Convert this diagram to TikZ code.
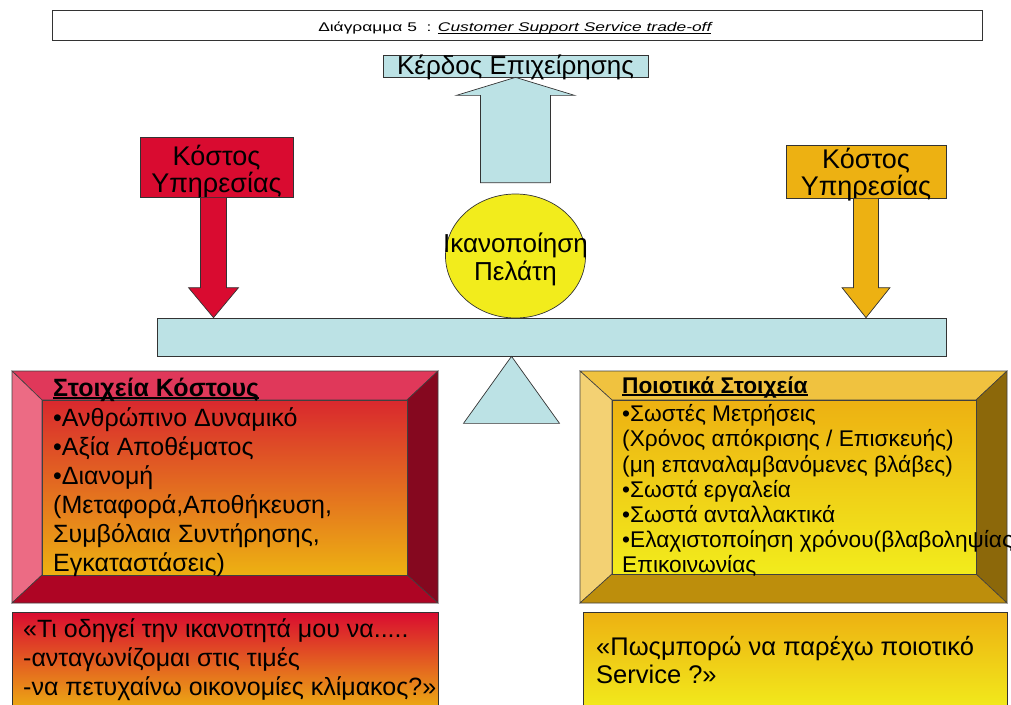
\documentclass[tikz,border=0pt]{standalone}
\usepackage{fontspec}
\usepackage{graphicx}
\setmainfont{Liberation Sans}
\usetikzlibrary{calc,shapes.geometric}

\definecolor{paleblue}{HTML}{BCE2E5}
\definecolor{crimson}{HTML}{D90B30}
\definecolor{amber}{HTML}{EDB112}
\definecolor{lemon}{HTML}{F2EC1C}
% bevel faces, cost frame
\definecolor{rtop}{HTML}{E0385A}
\definecolor{rleft}{HTML}{EC6B84}
\definecolor{rright}{HTML}{85081F}
\definecolor{rbottom}{HTML}{AE0524}
\definecolor{rface}{HTML}{D9282E}
% bevel faces, quality frame
\definecolor{gtop}{HTML}{F0C23F}
\definecolor{gleft}{HTML}{F3D173}
\definecolor{gright}{HTML}{8C680A}
\definecolor{gbottom}{HTML}{BD8E0C}

% underline drawn as a rule of given depth and thickness
\newcommand\ulrule[3]{\setbox0\hbox{#3}\rlap{\rule[-#1]{\wd0}{#2}}\box0}

\begin{document}
\begin{tikzpicture}[x=1pt,y=-1pt,
  outline/.style={draw=black!80, line width=0.7pt},
  facet/.style={draw=black!75, line width=0.6pt},
  textblock/.style={anchor=base west, inner sep=0pt},
  caption/.style={anchor=base, inner sep=0pt}]
\useasboundingbox (0,0) rectangle (1011,704);
\clip (0,0) rectangle (1011,704);

% heading
\node[outline, minimum width=930pt, minimum height=30pt, inner sep=0pt, anchor=north west]
  (title) at (52,10) {};
\node[caption] (titletext) at ($(title.center)+(-2.5,6)$)
  {\scalebox{1.38}[1]{\fontsize{12.6}{15}\selectfont Διάγραμμα 5\ \ : \textit{\ulrule{2pt}{0.7pt}{Customer Support Service trade-off}}}};

% profit label and the satisfaction ball
\node[outline, fill=paleblue, minimum width=265pt, minimum height=22pt, inner sep=0pt] (profit)
  at (515.5,66) {};
\node[caption, font=\fontsize{26}{28}\selectfont] (profittext) at ($(profit.center)+(0,8)$)
  {Κέρδος Επιχείρησης};
\node[outline, ellipse, fill=lemon, minimum width=140pt, minimum height=124pt, inner sep=0pt] (sat)
  at (515.5,256) {};
\node[caption] (sattext) at ($(sat.center)+(0,-4)$)
  {\parbox[t]{200pt}{\centering\fontsize{26}{28}\selectfont Ικανοποίηση\\Πελάτη}};

% cost weights
\node[outline, fill=crimson, minimum width=153pt, minimum height=60pt, inner sep=0pt] (costL)
  at (216.5,167) {};
\node[caption] (costLtext) at ($(costL.center)+(0,-2)$)
  {\parbox[t]{200pt}{\centering\fontsize{27}{27}\selectfont Κόστος\\Υπηρεσίας}};
\node[outline, fill=amber, minimum width=160pt, minimum height=53pt, inner sep=0pt] (costR)
  at (866,171.5) {};
\node[caption] (costRtext) at ($(costR.center)+(0,-3.5)$)
  {\parbox[t]{200pt}{\centering\fontsize{27}{27}\selectfont Κόστος\\Υπηρεσίας}};

% balance beam and fulcrum
\node[outline, fill=paleblue, minimum width=789pt, minimum height=38pt, inner sep=0pt] (beam)
  at (551.5,337) {};
\coordinate (apex) at ($(sat.center |- beam.south)+(-4,0)$);
\path[outline, fill=paleblue] (apex) -- ++(48,67) -- ++(-96,0) -- cycle;

% block arrows
\coordinate (tipL) at ($(costL.south |- beam.north)+(-3,0)$);
\coordinate (rootL) at ($(costL.south)+(-3,0)$);
\path[outline, fill=crimson]
  ($(rootL)+(-13,0)$) -- ($(tipL)+(-13,-30)$) -- ($(tipL)+(-25,-30)$) -- (tipL)
  -- ($(tipL)+(25,-30)$) -- ($(tipL)+(13,-30)$) -- ($(rootL)+(13,0)$) -- cycle;

\coordinate (tipR) at (costR.south |- beam.north);
\path[outline, fill=amber]
  ($(costR.south)+(-12.5,0)$) -- ($(tipR)+(-12.5,-30)$) -- ($(tipR)+(-24,-30)$) -- (tipR)
  -- ($(tipR)+(24,-30)$) -- ($(tipR)+(12.5,-30)$) -- ($(costR.south)+(12.5,0)$) -- cycle;

\coordinate (tipU) at (profit.south);
\coordinate (baseU) at ($(sat.north)+(0,-11)$);
\path[outline, fill=paleblue]
  ($(baseU)+(-35,0)$) -- ($(tipU)+(-35,18)$) -- ($(tipU)+(-59,18)$) -- (tipU)
  -- ($(tipU)+(59,18)$) -- ($(tipU)+(35,18)$) -- ($(baseU)+(35,0)$) -- cycle;

% bevelled frame: cost elements
\path[facet, fill=rtop]    (12,371) -- (438,371) -- (407,400) -- (42,400) -- cycle;
\path[facet, fill=rleft]   (12,371) -- (42,400) -- (42,575) -- (12,603) -- cycle;
\path[facet, fill=rright]  (438,371) -- (438,603) -- (407,575) -- (407,400) -- cycle;
\path[facet, fill=rbottom] (12,603) -- (438,603) -- (407,575) -- (42,575) -- cycle;
\path[facet, top color=rface, bottom color=amber] (42,400) rectangle (407,575);
\node[textblock] (costtext) at (53,396) {\parbox[t]{440pt}{\fontsize{25}{29}\selectfont\raggedright
  \textbf{\ulrule{3pt}{1.6pt}{Στοιχεία Κόστους}}\\[1pt]
  •Ανθρώπινο Δυναμικό\\
  •Αξία Αποθέματος\\
  •Διανομή\\
  (Μεταφορά,Αποθήκευση,\\
  Συμβόλαια Συντήρησης,\\
  Εγκαταστάσεις)}};

% bevelled frame: quality elements
\path[facet, fill=gtop]    (580,371) -- (1007,371) -- (976,400) -- (612,400) -- cycle;
\path[facet, fill=gleft]   (580,371) -- (612,400) -- (612,574) -- (580,603) -- cycle;
\path[facet, fill=gright]  (1007,371) -- (1007,603) -- (976,574) -- (976,400) -- cycle;
\path[facet, fill=gbottom] (580,603) -- (1007,603) -- (976,574) -- (612,574) -- cycle;
\path[facet, top color=amber, bottom color=lemon] (612,400) rectangle (976,574);
\node[textblock] (qualtext) at (622,393) {\parbox[t]{460pt}{\fontsize{22.7}{25.2}\selectfont\raggedright
  \textbf{\ulrule{3pt}{1.6pt}{Ποιοτικά Στοιχεία}}\\[3.5pt]
  •Σωστές Μετρήσεις\\
  (Χρόνος απόκρισης / Επισκευής)\\
  (μη επαναλαμβανόμενες βλάβες)\\
  •Σωστά εργαλεία\\
  •Σωστά ανταλλακτικά\\
  •Ελαχιστοποίηση χρόνου(βλαβοληψίας\\
  Επικοινωνίας}};

% question boxes
\path[outline, top color=crimson, bottom color=amber] (12,612) rectangle (438,712);
\node[textblock] (qleft) at (23,637) {\parbox[t]{480pt}{\fontsize{25}{29}\selectfont\raggedright
  «Τι οδηγεί την ικανοτητά μου να.....\\
  -ανταγωνίζομαι στις τιμές\\
  -να πετυχαίνω οικονομίες κλίμακος?»}};

\path[outline, top color=amber, bottom color=lemon] (583,612) rectangle (1007,712);
\node[textblock] (qright) at (596,655) {\parbox[t]{440pt}{\fontsize{25.5}{28}\selectfont\raggedright
  «Πωςμπορώ να παρέχω ποιοτικό\\
  Service ?»}};
\end{tikzpicture}
\end{document}
